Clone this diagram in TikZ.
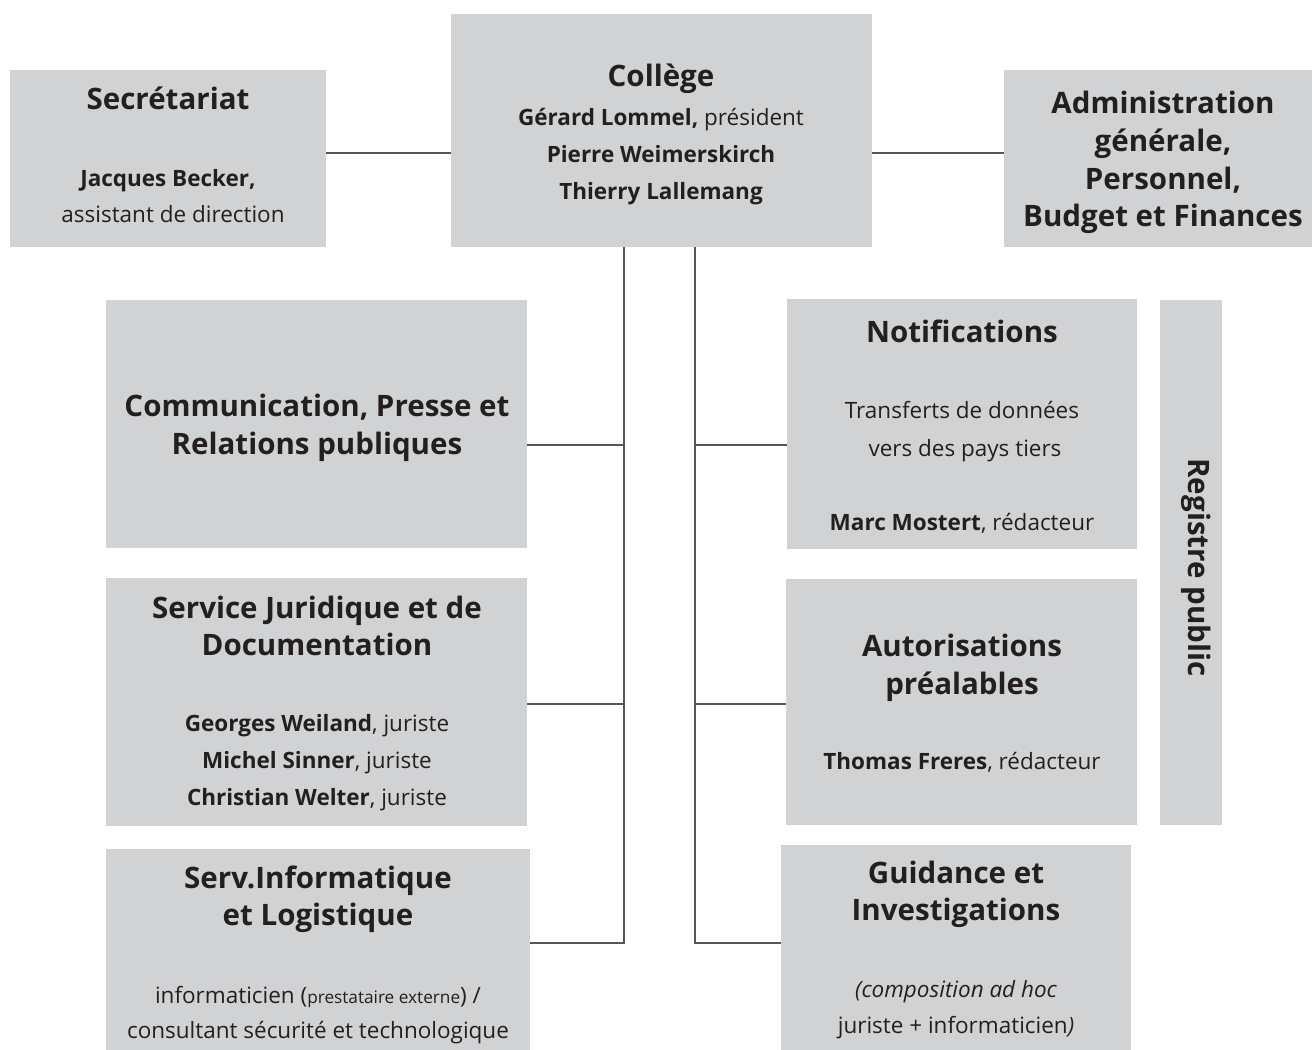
\documentclass[tikz,border=0pt]{standalone}
\usepackage{fontspec}
\setmainfont{Open Sans}
\usepackage{tikz}
\usetikzlibrary{positioning}
\definecolor{boxgray}{RGB}{209,210,212}
\definecolor{linegray}{RGB}{85,85,85}
\definecolor{txtblack}{RGB}{35,31,32}

\begin{document}
\begin{tikzpicture}[x=0.02cm,y=-0.02cm]
\tikzstyle{box}=[rectangle,fill=boxgray,inner sep=0pt]
\tikzstyle{ttl}=[anchor=mid,inner sep=0pt,yshift=-0.09cm,text=txtblack,font=\fontsize{16.8}{20}\selectfont\bfseries]
\tikzstyle{txt}=[anchor=mid,inner sep=0pt,yshift=-0.08cm,text=txtblack,font=\fontsize{12.8}{15}\selectfont]
\tikzstyle{link}=[draw=linegray,line width=0.7pt]
\useasboundingbox (0,0) rectangle (1312,1050);
% boxes
\node[box,minimum width=316*0.02cm,minimum height=177*0.02cm] (sec) at (168,158.5) {};
\node[box,minimum width=421*0.02cm,minimum height=233*0.02cm] (col) at (661.5,130.5) {};
\node[box,minimum width=308*0.02cm,minimum height=177*0.02cm] (adm) at (1158,158.5) {};
\node[box,minimum width=421*0.02cm,minimum height=248*0.02cm] (com) at (316.5,424) {};
\node[box,minimum width=421*0.02cm,minimum height=248*0.02cm] (jur) at (316.5,702) {};
\node[box,minimum width=424*0.02cm,minimum height=201*0.02cm] (inf) at (318,949.5) {};
\node[box,minimum width=350*0.02cm,minimum height=250*0.02cm] (notif) at (962,424) {};
\node[box,minimum width=351*0.02cm,minimum height=246*0.02cm] (auto) at (961.5,702) {};
\node[box,minimum width=350*0.02cm,minimum height=205*0.02cm] (guid) at (956,947.5) {};
\node[box,minimum width=62*0.02cm,minimum height=525*0.02cm] (reg) at (1191,562.5) {};
% texts
\node[ttl] (sec-t) at (168,100) {Secrétariat};
\node[txt] (sec-a) at (168,178) {\bfseries Jacques Becker,};
\node[txt] (sec-b) at (173,214) {assistant de direction};
\node[ttl] (col-t) at (661,77) {Collège};
\node[txt] (col-a) at (661,117) {\textbf{Gérard Lommel,} président};
\node[txt] (col-b) at (661,154) {\bfseries Pierre Weimerskirch};
\node[txt] (col-c) at (661,191) {\bfseries Thierry Lallemang};
\node[ttl] (adm-a) at (1163,104) {Administration};
\node[ttl] (adm-b) at (1163,142) {générale,};
\node[ttl] (adm-c) at (1163,180) {Personnel,};
\node[ttl] (adm-d) at (1163,217) {Budget et Finances};
\node[ttl] (com-a) at (317,407) {Communication, Presse et};
\node[ttl] (com-b) at (317,445) {Relations publiques};
\node[ttl] (jur-a) at (317,609) {Service Juridique et de};
\node[ttl] (jur-b) at (317,646) {Documentation};
\node[txt] (jur-c) at (317,723) {\textbf{Georges Weiland}, juriste};
\node[txt] (jur-d) at (317,760) {\textbf{Michel Sinner}, juriste};
\node[txt] (jur-e) at (317,797) {\textbf{Christian Welter}, juriste};
\node[ttl] (inf-a) at (318,879) {Serv.Informatique};
\node[ttl] (inf-b) at (318,916) {et Logistique};
\node[txt] (inf-c) at (318,995) {informaticien ({\fontsize{9.8}{11}\selectfont prestataire externe}) /};
\node[txt] (inf-d) at (318,1030) {consultant sécurité et technologique};
\node[ttl] (notif-a) at (962,333) {Notifications};
\node[txt] (notif-b) at (962,410) {Transferts de données};
\node[txt] (notif-c) at (965,448) {vers des pays tiers};
\node[txt] (notif-d) at (962,522) {\textbf{Marc Mostert}, rédacteur};
\node[ttl] (auto-a) at (962,647) {Autorisations};
\node[ttl] (auto-b) at (962,685) {préalables};
\node[txt] (auto-c) at (962,761) {\textbf{Thomas Freres}, rédacteur};
\node[ttl] (guid-a) at (956,874) {Guidance et};
\node[ttl] (guid-b) at (956,911) {Investigations};
\node[txt] (guid-c) at (956,989) {\itshape (composition ad hoc};
\node[txt] (guid-d) at (956,1025) {juriste + informaticien\textit{)}};
\node[ttl,rotate=-90,yshift=0.04cm] (reg-t) at (1191,563) {Registre public};
% connectors
\coordinate (jt) at (661,153);
\coordinate (tl) at (624,943);
\coordinate (tr) at (695,943);
\coordinate (jl1) at (624,445);
\coordinate (jl2) at (624,704);
\coordinate (jr1) at (695,445);
\coordinate (jr2) at (695,704);
\draw[link] (sec.east |- jt) -- (col.west |- jt);
\draw[link] (col.east |- jt) -- (adm.west |- jt);
\draw[link] (col.south -| tl) -- (tl) -- (inf.east |- tl);
\draw[link] (col.south -| tr) -- (tr) -- (guid.west |- tr);
\draw[link] (jl1) -- (com.east |- jl1);
\draw[link] (jl2) -- (jur.east |- jl2);
\draw[link] (jr1) -- (notif.west |- jr1);
\draw[link] (jr2) -- (auto.west |- jr2);
\end{tikzpicture}
\end{document}
